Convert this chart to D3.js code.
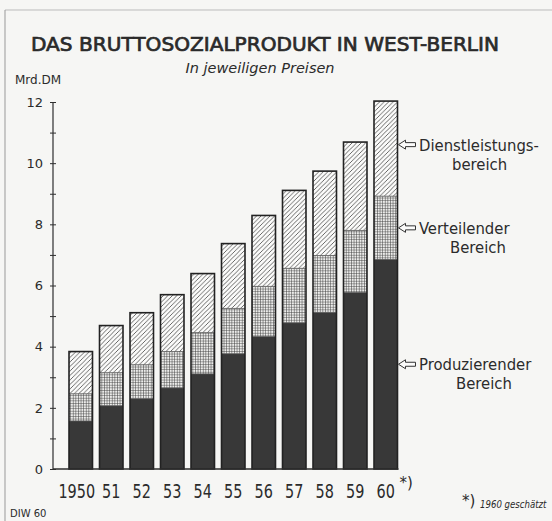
<!DOCTYPE html>
<html>
<head>
<meta charset='utf-8' />
<title>Das Bruttosozialprodukt in West-Berlin</title>
<script src="https://d3js.org/d3.v7.min.js"></script>
<style>
body { margin: 0; padding: 0; background: #f6f6f4; }
svg { display: block; }
text { fill: #2b2b2b; }
</style>
</head>
<body>
<div id='chart'></div>
<script>

// data, Mrd. DM
var years = ["1950", "51", "52", "53", "54", "55", "56", "57", "58", "59", "60"];
var produzierend = [1.57, 2.07, 2.30, 2.65, 3.11, 3.77, 4.33, 4.78, 5.12, 5.77, 6.85];
var verteilend   = [0.89, 1.08, 1.11, 1.19, 1.35, 1.48, 1.64, 1.78, 1.86, 2.03, 2.07];
var dienst       = [1.38, 1.54, 1.70, 1.86, 1.93, 2.12, 2.32, 2.55, 2.76, 2.89, 3.11];
var yTicks = [0, 1, 2, 3, 4, 5, 6, 7, 8, 9, 10, 11, 12];
var keys = ["prod", "vert", "dienst"];

var W = 552, H = 521;
var dark = "#2e2e2e";
var cond = "'DejaVu Sans Condensed', 'DejaVu Sans', sans-serif";

var svg = d3.select("#chart").append("svg")
  .attr("width", W)
  .attr("height", H);

// frame lines (top and left)
svg.append("line").attr("x1", 5).attr("x2", W).attr("y1", 10).attr("y2", 10)
  .attr("stroke", "#bbb").attr("stroke-width", 1);
svg.append("line").attr("x1", 5).attr("x2", 5).attr("y1", 10).attr("y2", H)
  .attr("stroke", "#999").attr("stroke-width", 1);

//////////
// PATTERNS //
//////////
var defs = svg.append("defs");

var hatch = defs.append("pattern")
  .attr("id", "hatch")
  .attr("patternUnits", "userSpaceOnUse")
  .attr("width", 4.5).attr("height", 4.5);
hatch.append("rect").attr("width", 4.5).attr("height", 4.5).attr("fill", "#fbfbfa");
hatch.append("path")
  .attr("d", "M0,4.5 L4.5,0 M-1,1 L1,-1 M3.5,5.5 L5.5,3.5")
  .attr("stroke", "#444").attr("stroke-width", 0.8);

var grid = defs.append("pattern")
  .attr("id", "grid")
  .attr("patternUnits", "userSpaceOnUse")
  .attr("width", 2.6).attr("height", 2.6);
grid.append("rect").attr("width", 2.6).attr("height", 2.6).attr("fill", "#ececea");
grid.append("path")
  .attr("d", "M0,0 H2.6 M0,0 V2.6")
  .attr("stroke", "#3a3a3a").attr("stroke-width", 1);

var fills = { prod: "#383838", vert: "url(#grid)", dienst: "url(#hatch)" };

//////////
// SCALES + AXIS //
//////////
var x = d3.scaleBand()
  .domain(years)
  .range([62, 404.5])
  .padding(0.23);

var y = d3.scaleLinear()
  .domain([0, 12])
  .range([469, 102]);

var yAxis = svg.append("g")
  .attr("transform", "translate(53,0)")
  .call(d3.axisLeft(y).tickValues(yTicks).tickSize(3).tickPadding(7)
    .tickFormat(function(d) { return d % 2 === 0 ? d : ""; }));
yAxis.select(".domain").attr("stroke", dark).attr("stroke-width", 1.2).attr("d", "M0,102V469");
yAxis.selectAll(".tick line").attr("x1", -3).attr("x2", 3).attr("stroke", dark);
yAxis.selectAll(".tick text")
  .style("font-family", "'DejaVu Sans', sans-serif")
  .style("font-size", "13px")
  .attr("fill", "#333");

//////////
// BARS //
//////////
var rows = years.map(function(yr, i) {
  return { year: yr, prod: produzierend[i], vert: verteilend[i], dienst: dienst[i] };
});
var stacked = d3.stack().keys(keys)(rows);

var bars = svg.append("g");
bars.selectAll("g")
  .data(stacked)
  .enter()
  .append("g")
    .attr("fill", function(d) { return fills[d.key]; })
  .selectAll("rect")
  .data(function(d) { return d; })
  .enter()
  .append("rect")
    .attr("x", function(d) { return x(d.data.year); })
    .attr("width", x.bandwidth())
    .attr("y", function(d) { return y(d[1]); })
    .attr("height", function(d) { return y(d[0]) - y(d[1]); });

// separating lines + outline
var topLayer = stacked[2];
bars.selectAll(".sep")
  .data(stacked[0].concat(stacked[1]))
  .enter()
  .append("line")
    .attr("class", "sep")
    .attr("x1", function(d) { return x(d.data.year); })
    .attr("x2", function(d) { return x(d.data.year) + x.bandwidth(); })
    .attr("y1", function(d) { return y(d[1]); })
    .attr("y2", function(d) { return y(d[1]); })
    .attr("stroke", "#555").attr("stroke-width", 0.8);
bars.selectAll(".outline")
  .data(topLayer)
  .enter()
  .append("rect")
    .attr("class", "outline")
    .attr("x", function(d) { return x(d.data.year); })
    .attr("width", x.bandwidth())
    .attr("y", function(d) { return y(d[1]); })
    .attr("height", function(d) { return y(0) - y(d[1]); })
    .attr("fill", "none")
    .attr("stroke", "#222").attr("stroke-width", 1.6);

// base line
svg.append("line")
  .attr("x1", 53).attr("x2", x("60") + x.bandwidth() + 1)
  .attr("y1", y(0)).attr("y2", y(0))
  .attr("stroke", dark).attr("stroke-width", 1.4);

// year labels (squeezed horizontally like the narrow original face)
svg.selectAll(".yr")
  .data(years)
  .enter()
  .append("text")
    .attr("class", "yr")
    .attr("transform", function(d) {
      var cx = x(d) + x.bandwidth() / 2 - (d.length > 2 ? 4 : 0);
      return "translate(" + cx + ",498) scale(0.76,1)";
    })
    .attr("text-anchor", "middle")
    .style("font-family", "'DejaVu Sans', sans-serif")
    .style("font-size", "19px")
    .text(function(d) { return d; });
svg.append("text")
  .attr("x", x("60") + x.bandwidth() + 2).attr("y", 488)
  .style("font-family", "'DejaVu Sans', sans-serif").style("font-size", "15px")
  .text("*)");

//////////
// LEGEND (arrows on the 1960 bar) //
//////////
var last = rows[rows.length - 1];
var lx = x("60") + x.bandwidth() + 1;
var legend = [
  { key: "dienst", mid: (y(last.prod + last.vert + last.dienst) + y(last.prod + last.vert)) / 2 - 4,
    lines: [["Dienstleistungs-", 419], ["bereich", 452]] },
  { key: "vert", mid: (y(last.prod + last.vert) + y(last.prod)) / 2,
    lines: [["Verteilender", 419], ["Bereich", 450]] },
  { key: "prod", mid: (y(last.prod) + y(0)) / 2,
    lines: [["Produzierender", 419], ["Bereich", 456]] }
];

var lg = svg.append("g").selectAll("g")
  .data(legend)
  .enter()
  .append("g");

lg.append("path")
  .attr("d", function(d) {
    var m = d.mid;
    return "M" + lx + "," + m + " L" + (lx + 7) + "," + (m - 4.5) + " L" + (lx + 7) + "," + (m - 2) +
      " L" + (lx + 17) + "," + (m - 2) + " L" + (lx + 17) + "," + (m + 2) +
      " L" + (lx + 7) + "," + (m + 2) + " L" + (lx + 7) + "," + (m + 4.5) + " Z";
  })
  .attr("fill", "#fbfbfa").attr("stroke", "#333").attr("stroke-width", 1);

lg.selectAll("text")
  .data(function(d) { return d.lines.map(function(l, i) { return { t: l[0], x: l[1], y: d.mid + 6 + i * 19 }; }); })
  .enter()
  .append("text")
    .attr("x", function(d) { return d.x; })
    .attr("y", function(d) { return d.y; })
    .style("font-family", cond)
    .style("font-size", "16.5px")
    .text(function(d) { return d.t; });

//////////
// TITLES //
//////////
svg.append("text")
  .attr("x", 265).attr("y", 51)
  .attr("text-anchor", "middle")
  .attr("textLength", 468).attr("lengthAdjust", "spacingAndGlyphs")
  .style("font-family", "'DejaVu Sans', sans-serif")
  .style("font-size", "19px")
  .attr("fill", "#2a2a2a").attr("stroke", "#2a2a2a").attr("stroke-width", 0.7)
  .text("DAS BRUTTOSOZIALPRODUKT IN WEST-BERLIN");

svg.append("text")
  .attr("x", 260).attr("y", 73)
  .attr("text-anchor", "middle")
  .style("font-family", "'DejaVu Sans', sans-serif")
  .style("font-size", "14.5px").style("font-style", "italic")
  .text("In jeweiligen Preisen");

svg.append("text")
  .attr("x", 15).attr("y", 84)
  .style("font-family", "'DejaVu Sans', sans-serif")
  .style("font-size", "12px")
  .text("Mrd.DM");

// footnote
svg.append("text")
  .attr("x", 462).attr("y", 506)
  .style("font-family", "'DejaVu Sans', sans-serif")
  .style("font-size", "15px")
  .text("*)");
svg.append("text")
  .attr("transform", "translate(480,508) scale(0.86,1)")
  .style("font-family", "'DejaVu Sans', sans-serif")
  .style("font-size", "10px").style("font-style", "italic")
  .text("1960 geschätzt");

svg.append("text")
  .attr("x", 10).attr("y", 517)
  .style("font-family", "'DejaVu Sans', sans-serif")
  .style("font-size", "10px")
  .text("DIW 60");

</script>
</body>
</html>
